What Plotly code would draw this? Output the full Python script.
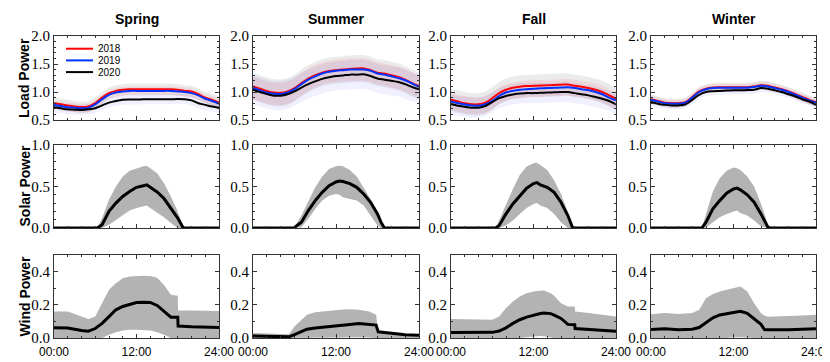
import plotly.graph_objects as go
from plotly.subplots import make_subplots

SEASONS = ["Spring", "Summer", "Fall", "Winter"]
YEARS = ["2018", "2019", "2020"]
YEAR_COLORS = {"2018": "#ff0000", "2019": "#0033ff", "2020": "#000000"}
BAND_COLORS = {
    "2018": "rgba(0,0,0,0.08)",
    "2019": "rgba(255,0,0,0.08)",
    "2020": "rgba(0,0,255,0.06)"
}

HOURS = list(range(25))

# load power, hourly means per year
LOAD_2018 = {
    "Spring": [0.80, 0.78, 0.76, 0.74, 0.73, 0.74, 0.80, 0.90, 0.98, 1.02, 1.04, 1.05, 1.05,
               1.05, 1.05, 1.05, 1.05, 1.05, 1.04, 1.02, 1.01, 0.96, 0.90, 0.86, 0.81],
    "Summer": [1.10, 1.06, 1.02, 0.99, 0.985, 1.01, 1.07, 1.16, 1.24, 1.30, 1.345, 1.375, 1.39,
               1.40, 1.41, 1.42, 1.42, 1.39, 1.345, 1.33, 1.30, 1.27, 1.22, 1.16, 1.11],
    "Fall": [0.86, 0.83, 0.80, 0.78, 0.78, 0.81, 0.89, 0.98, 1.04, 1.075, 1.095, 1.105, 1.11,
             1.115, 1.12, 1.125, 1.13, 1.135, 1.11, 1.095, 1.07, 1.04, 1.00, 0.94, 0.88],
    "Winter": [0.87, 0.84, 0.81, 0.80, 0.80, 0.82, 0.91, 1.01, 1.06, 1.08, 1.085, 1.085, 1.085,
               1.085, 1.085, 1.10, 1.12, 1.11, 1.08, 1.05, 1.01, 0.96, 0.91, 0.86, 0.82]
}
LOAD_2019 = {
    "Spring": [0.77, 0.75, 0.73, 0.72, 0.71, 0.72, 0.78, 0.87, 0.95, 0.99, 1.01, 1.02, 1.02,
               1.02, 1.02, 1.02, 1.02, 1.02, 1.01, 1.00, 0.98, 0.94, 0.88, 0.84, 0.79],
    "Summer": [1.07, 1.03, 0.99, 0.97, 0.965, 0.99, 1.05, 1.14, 1.22, 1.28, 1.33, 1.36, 1.38,
               1.39, 1.40, 1.40, 1.40, 1.38, 1.33, 1.31, 1.28, 1.25, 1.21, 1.15, 1.09],
    "Fall": [0.83, 0.80, 0.775, 0.76, 0.755, 0.78, 0.84, 0.93, 0.99, 1.02, 1.04, 1.05, 1.06,
             1.065, 1.07, 1.075, 1.08, 1.085, 1.07, 1.05, 1.03, 1.00, 0.96, 0.90, 0.85],
    "Winter": [0.86, 0.83, 0.80, 0.79, 0.79, 0.81, 0.90, 1.00, 1.05, 1.07, 1.075, 1.075, 1.075,
               1.075, 1.075, 1.09, 1.11, 1.10, 1.07, 1.04, 1.00, 0.95, 0.90, 0.85, 0.81]
}
LOAD_2020 = {
    "Spring": [0.73, 0.71, 0.69, 0.685, 0.68, 0.69, 0.71, 0.76, 0.81, 0.84, 0.86, 0.865, 0.865,
               0.87, 0.87, 0.87, 0.87, 0.87, 0.875, 0.87, 0.85, 0.80, 0.77, 0.74, 0.72],
    "Summer": [1.04, 1.00, 0.965, 0.935, 0.935, 0.96, 1.01, 1.08, 1.14, 1.19, 1.235, 1.265, 1.285,
               1.295, 1.31, 1.31, 1.315, 1.285, 1.24, 1.22, 1.20, 1.18, 1.14, 1.09, 1.05],
    "Fall": [0.78, 0.755, 0.735, 0.72, 0.72, 0.75, 0.82, 0.89, 0.93, 0.955, 0.975, 0.98, 0.98,
             0.985, 0.99, 0.995, 1.0, 1.0, 0.98, 0.96, 0.94, 0.91, 0.88, 0.84, 0.78],
    "Winter": [0.82, 0.79, 0.77, 0.76, 0.76, 0.78, 0.86, 0.95, 1.0, 1.015, 1.02, 1.025, 1.03,
               1.03, 1.035, 1.04, 1.07, 1.06, 1.03, 1.0, 0.96, 0.92, 0.87, 0.83, 0.77]
}
# spread of the shaded band around each yearly mean (2018, 2019, 2020)
LOAD_SPREAD = {
    "Spring": [0.10, 0.08, 0.09],
    "Summer": [0.24, 0.20, 0.26],
    "Fall": [0.20, 0.15, 0.18],
    "Winter": [0.08, 0.07, 0.07]
}

# solar power
SOLAR_HOURS = {
    "Spring": [0, 6.3, 7, 8, 9, 10, 11, 12, 13, 13.5, 14, 15, 16, 17, 18, 18.8, 24],
    "Summer": [0, 5.9, 7, 8, 9, 10, 11, 12, 12.5, 13, 14, 15, 16, 17, 18, 18.5, 19, 24],
    "Fall": [0, 6.5, 7, 8, 9, 10, 11, 12, 12.5, 13, 14, 15, 16, 17, 17.7, 24],
    "Winter": [0, 7.4, 8, 9, 10, 11, 12, 12.5, 13, 14, 15, 16, 17, 17.3, 24]
}
SOLAR_MEAN = {
    "Spring": [0, 0, 0.04, 0.2, 0.3, 0.38, 0.44, 0.49, 0.51, 0.52, 0.49, 0.435, 0.355, 0.24, 0.12, 0, 0],
    "Summer": [0, 0, 0.07, 0.21, 0.33, 0.43, 0.51, 0.555, 0.567, 0.56, 0.535, 0.49, 0.41, 0.31, 0.17, 0.07, 0, 0],
    "Fall": [0, 0, 0.03, 0.17, 0.29, 0.39, 0.48, 0.535, 0.547, 0.52, 0.49, 0.43, 0.31, 0.15, 0, 0],
    "Winter": [0, 0, 0.07, 0.23, 0.33, 0.42, 0.47, 0.48, 0.46, 0.40, 0.31, 0.17, 0.01, 0, 0]
}
SOLAR_UPPER = {
    "Spring": [0, 0, 0.12, 0.34, 0.5, 0.62, 0.69, 0.72, 0.745, 0.75, 0.72, 0.66, 0.54, 0.38, 0.2, 0, 0],
    "Summer": [0, 0, 0.15, 0.33, 0.49, 0.62, 0.71, 0.745, 0.75, 0.745, 0.70, 0.62, 0.49, 0.35, 0.19, 0.09, 0, 0],
    "Fall": [0, 0, 0.09, 0.29, 0.47, 0.64, 0.74, 0.78, 0.785, 0.76, 0.70, 0.575, 0.41, 0.19, 0, 0],
    "Winter": [0, 0, 0.17, 0.44, 0.60, 0.69, 0.73, 0.72, 0.70, 0.62, 0.50, 0.29, 0.05, 0, 0]
}
SOLAR_LOWER = {
    "Spring": [0, 0, 0, 0.04, 0.1, 0.16, 0.21, 0.24, 0.26, 0.27, 0.24, 0.19, 0.13, 0.06, 0, 0, 0],
    "Summer": [0, 0, 0.01, 0.11, 0.23, 0.33, 0.39, 0.41, 0.40, 0.37, 0.35, 0.33, 0.27, 0.15, 0.03, 0, 0, 0],
    "Fall": [0, 0, 0, 0.03, 0.09, 0.17, 0.24, 0.29, 0.30, 0.27, 0.24, 0.17, 0.07, 0, 0, 0],
    "Winter": [0, 0, 0.01, 0.07, 0.13, 0.17, 0.20, 0.21, 0.18, 0.15, 0.09, 0.02, 0, 0, 0]
}

# wind power
WIND_HOURS = {
    "Spring": [0, 2, 4, 5, 6, 7, 8, 9, 10, 11, 12, 13, 14, 15, 16, 17, 18, 18.05, 20, 22, 24],
    "Summer": [0, 2, 4, 5.2, 6, 7, 7.8, 9, 11, 13, 14, 15.3, 16.8, 17.8, 18.1, 20, 22, 24],
    "Fall": [0, 2, 4, 6, 7, 8, 9, 10, 11, 12, 13, 13.5, 14.5, 15, 16, 17, 18, 18.05, 20, 22, 24],
    "Winter": [0, 2, 4, 6, 7, 8, 9, 10, 11, 12, 13, 14, 15, 16, 16.5, 17, 20, 22, 24]
}
WIND_MEAN = {
    "Spring": [0.061, 0.06, 0.045, 0.041, 0.057, 0.088, 0.129, 0.17, 0.19, 0.204, 0.214,
               0.216, 0.214, 0.196, 0.159, 0.125, 0.125, 0.072, 0.068, 0.066, 0.064],
    "Summer": [0.012, 0.01, 0.008, 0.007, 0.02, 0.04, 0.053, 0.06, 0.067, 0.078, 0.082,
               0.088, 0.082, 0.078, 0.037, 0.027, 0.02, 0.016],
    "Fall": [0.033, 0.033, 0.033, 0.034, 0.042, 0.061, 0.088, 0.11, 0.126, 0.139, 0.148,
             0.151, 0.147, 0.138, 0.118, 0.082, 0.08, 0.057, 0.05, 0.044, 0.04],
    "Winter": [0.051, 0.055, 0.05, 0.053, 0.063, 0.094, 0.122, 0.139, 0.147, 0.153, 0.161,
               0.149, 0.118, 0.082, 0.051, 0.05, 0.05, 0.052, 0.055]
}
WIND_UPPER = {
    "Spring": [0.159, 0.16, 0.129, 0.114, 0.13, 0.21, 0.29, 0.33, 0.36, 0.37, 0.373,
               0.375, 0.373, 0.363, 0.32, 0.26, 0.255, 0.165, 0.165, 0.165, 0.163],
    "Summer": [0.03, 0.028, 0.025, 0.022, 0.07, 0.11, 0.14, 0.155, 0.165, 0.172, 0.173,
               0.17, 0.16, 0.14, 0.03, 0.027, 0.023, 0.02],
    "Fall": [0.114, 0.113, 0.112, 0.11, 0.13, 0.18, 0.22, 0.25, 0.27, 0.28, 0.285,
             0.286, 0.27, 0.255, 0.21, 0.19, 0.19, 0.16, 0.15, 0.14, 0.13],
    "Winter": [0.143, 0.15, 0.145, 0.15, 0.17, 0.24, 0.265, 0.28, 0.29, 0.30, 0.31,
               0.28, 0.21, 0.149, 0.135, 0.128, 0.13, 0.135, 0.14]
}
WIND_LOWER = {
    "Spring": [0, 0, 0, 0, 0, 0, 0.02, 0.035, 0.045, 0.05, 0.05,
               0.048, 0.045, 0.035, 0.02, 0, 0, 0, 0, 0, 0],
    "Summer": [0, 0, 0, 0, 0, 0, 0, 0, 0, 0.003, 0.005,
               0.005, 0.003, 0, 0, 0, 0, 0],
    "Fall": [0, 0, 0, 0, 0, 0, 0, 0, 0.005, 0.01, 0.012,
             0.01, 0.005, 0, 0, 0, 0, 0, 0, 0, 0],
    "Winter": [0, 0, 0, 0, 0, 0, 0, 0, 0, 0.005, 0.005,
               0.003, 0, 0, 0, 0, 0, 0, 0]
}

ROW_TITLES = ["Load Power", "Solar Power", "Wind Power"]
ROW_RANGES = [[0.5, 2.0], [0.0, 1.0], [0.0, 0.5]]
ROW_TICKS = [[0.5, 1.0, 1.5, 2.0], [0.0, 0.5, 1.0], [0.0, 0.2, 0.4]]

COL_DOMAINS = [[46, 211], [245, 411], [443, 608], [643, 808]]
ROW_DOMAINS = [[28, 112], [137, 220], [247, 330]]
W, H = 830, 362
GRAY = "#b3b3b3"
SANS = "Liberation Sans, Arial, sans-serif"
SERIF = "Liberation Serif, Times New Roman, serif"


def add_band(fig, x, upper, lower, color, row, col, shape="linear"):
    fig.add_trace(go.Scatter(x=x, y=upper, mode="lines", line=dict(width=0, shape=shape),
                             showlegend=False, hoverinfo="skip"), row=row, col=col)
    fig.add_trace(go.Scatter(x=x, y=lower, mode="lines", line=dict(width=0, shape=shape),
                             fill="tonexty", fillcolor=color,
                             showlegend=False, hoverinfo="skip"), row=row, col=col)


fig = make_subplots(rows=3, cols=4)

loads = {"2018": LOAD_2018, "2019": LOAD_2019, "2020": LOAD_2020}

for c, season in enumerate(SEASONS, start=1):

    # load bands then lines
    for i, year in enumerate(YEARS):
        mean = loads[year][season]
        s = LOAD_SPREAD[season][i]
        add_band(fig, HOURS, [v + s for v in mean], [v - s for v in mean],
                 BAND_COLORS[year], 1, c, shape="spline")
    for year in YEARS:
        fig.add_trace(go.Scatter(
            x=HOURS, y=loads[year][season], mode="lines", name=year,
            line=dict(color=YEAR_COLORS[year], width=2, shape="spline"),
            showlegend=False
        ), row=1, col=c)

    # solar
    add_band(fig, SOLAR_HOURS[season], SOLAR_UPPER[season], SOLAR_LOWER[season], GRAY, 2, c)
    fig.add_trace(go.Scatter(
        x=SOLAR_HOURS[season], y=SOLAR_MEAN[season], mode="lines",
        line=dict(color="black", width=3), showlegend=False
    ), row=2, col=c)

    # wind
    add_band(fig, WIND_HOURS[season], WIND_UPPER[season], WIND_LOWER[season], GRAY, 3, c)
    fig.add_trace(go.Scatter(
        x=WIND_HOURS[season], y=WIND_MEAN[season], mode="lines",
        line=dict(color="black", width=3), showlegend=False
    ), row=3, col=c)

    fig.add_annotation(
        text="<b>" + season + "</b>", xref="paper", yref="paper",
        x=(COL_DOMAINS[c - 1][0] + COL_DOMAINS[c - 1][1]) / 2 / W, y=1 - 11 / H,
        showarrow=False, font=dict(family=SANS, size=14, color="black"),
        xanchor="center", yanchor="middle"
    )

# row titles on the left
for r, title in enumerate(ROW_TITLES):
    y0, y1 = ROW_DOMAINS[r]
    fig.add_annotation(
        text="<b>" + title + "</b>", xref="paper", yref="paper",
        x=16 / W, y=1 - (y0 + y1) / 2 / H, textangle=-90,
        showarrow=False, font=dict(family=SANS, size=14, color="black"),
        xanchor="center", yanchor="middle"
    )

# compact legend drawn inside the first load panel
for i, year in enumerate(YEARS):
    ky = 1 - (40.7 + 11.7 * i) / H
    fig.add_shape(type="line", xref="paper", yref="paper",
                  x0=58 / W, x1=85 / W, y0=ky, y1=ky,
                  line=dict(color=YEAR_COLORS[year], width=2))
    fig.add_annotation(text=year, xref="paper", yref="paper", x=88 / W, y=ky,
                       xanchor="left", yanchor="middle", showarrow=False,
                       font=dict(family=SANS, size=10, color="black"))

for r in range(1, 4):
    for c in range(1, 5):
        n = (r - 1) * 4 + c
        suffix = "" if n == 1 else str(n)
        x0, x1 = COL_DOMAINS[c - 1]
        y0, y1 = ROW_DOMAINS[r - 1]
        fig.layout["xaxis" + suffix].update(
            domain=[x0 / W, x1 / W], range=[0, 24], automargin=False,
            tickvals=[0, 12, 24], ticktext=["00:00", "12:00", "24:00"],
            showticklabels=(r == 3), ticklabelstandoff=3,
            ticks="inside", ticklen=4, tickcolor="#333", mirror="ticks",
            showline=True, linecolor="#333", linewidth=1,
            minor=dict(ticks="inside", ticklen=2, dtick=2, tick0=0, tickcolor="#333"),
            showgrid=False, zeroline=False,
            tickfont=dict(family=SANS, size=12, color="black")
        )
        fig.layout["yaxis" + suffix].update(
            domain=[1 - y1 / H, 1 - y0 / H], range=ROW_RANGES[r - 1], automargin=False,
            tickvals=ROW_TICKS[r - 1], tickformat=".1f",
            ticks="inside", ticklen=4, tickcolor="#333", mirror="ticks",
            showline=True, linecolor="#333", linewidth=1,
            minor=dict(ticks="inside", ticklen=2, dtick=0.1, tickcolor="#333"),
            showgrid=False, zeroline=False,
            tickfont=dict(family=SERIF, size=15, color="black")
        )

fig.update_layout(
    width=W, height=H,
    margin=dict(l=0, r=0, t=0, b=0),
    plot_bgcolor="white", paper_bgcolor="white",
    showlegend=False
)

fig.write_html("out.html")
